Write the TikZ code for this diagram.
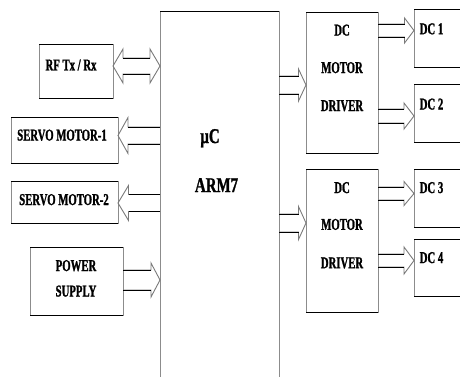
\documentclass[tikz,border=0pt]{standalone}
\usepackage{fontspec}
\setmainfont{Liberation Serif}[FakeStretch=0.65,FakeBold=1.2]
\newfontfamily\bigfont{Liberation Serif}[FakeStretch=0.71,FakeBold=1.2]
\usetikzlibrary{calc}
\definecolor{vgray}{HTML}{8C8C8C}
\definecolor{agray}{HTML}{7A7A7A}
\newcommand\hedges[1]{\draw[hl] (#1.north west) -- (#1.north east) (#1.south west) -- (#1.south east);}
% #1 from node anchor, #2 to node anchor, #3 y, #4 shaft half, #5 head half, #6 head length
\newcommand\barrow[6]{%
  \path let \p1=(#1), \p2=(#2), \n1={\x1}, \n2={\x2}, \n3={ifthenelse(\x2>\x1,\x2-#6,\x2+#6)} in
    [draw=agray, line width=0.9pt, line join=miter]
    (\n1,#3-#4) -- (\n3,#3-#4) -- (\n3,#3-#5) -- (\n2,#3) -- (\n3,#3+#5) -- (\n3,#3+#4) -- (\n1,#3+#4);
  \path let \p1=(#1), \p2=(#2), \n1={\x1}, \n2={\x2}, \n3={ifthenelse(\x2>\x1,\x2-#6,\x2+#6)} in
    [draw=black, line width=0.9pt]
    (\n1,#3-#4) -- (\n3,#3-#4) (\n1,#3+#4) -- (\n3,#3+#4);}
\begin{document}
\begin{tikzpicture}[x=1pt,y=-1pt,
  box/.style={draw=vgray, line width=0.9pt, inner sep=0pt, outer sep=0pt, anchor=north west},
  hl/.style={draw=black, line width=0.9pt},
  txt/.style={font=\fontsize{16.5}{19}\selectfont\bfseries, inner sep=0pt, anchor=base},
  big/.style={font=\bigfont\fontsize{21}{25}\selectfont\bfseries, inner sep=0pt, anchor=base}]
\useasboundingbox (0,0) rectangle (460,376);
\clip (0,0) rectangle (460,376);
\fill[white] (0,0) rectangle (460,376);
% boxes
\node[box, minimum width=119pt, minimum height=380pt] (arm) at (160,11) {};
\node[box, minimum width=74pt, minimum height=54pt] (rf) at (39,44) {};
\node[box, minimum width=107pt, minimum height=46pt] (s1) at (11,117) {};
\node[box, minimum width=107pt, minimum height=42pt] (s2) at (11,181) {};
\node[box, minimum width=93pt, minimum height=68pt] (ps) at (30,247) {};
\node[box, minimum width=72pt, minimum height=141pt] (d1) at (306,12) {};
\node[box, minimum width=72pt, minimum height=143pt] (d2) at (306,169) {};
\node[box, minimum width=60pt, minimum height=58pt] (dc1) at (414,9) {};
\node[box, minimum width=60pt, minimum height=58pt] (dc2) at (414,84) {};
\node[box, minimum width=60pt, minimum height=58pt] (dc3) at (414,169) {};
\node[box, minimum width=60pt, minimum height=57pt] (dc4) at (414,239) {};
\foreach \b in {arm,rf,s1,s2,ps,d1,d2,dc1,dc2,dc3,dc4} {\hedges{\b}}
% texts
\node[txt] (trf) at (71,70.4) {RF Tx / Rx};
\node[txt] (ts1) at (62,140.5) {SERVO MOTOR-1};
\node[txt] (ts2) at (64,205) {SERVO MOTOR-2};
\node[txt] (tps1) at (76,271) {POWER};
\node[txt] (tps2) at (76,296.5) {SUPPLY};
\node[big] (tmu) at (210,143) {µC};
\node[big] (tarm) at (216.5,192) {ARM7};
\node[txt] (td1a) at (342,35.5) {DC};
\node[txt] (td1b) at (342,73) {MOTOR};
\node[txt] (td1c) at (342,111) {DRIVER};
\node[txt] (td2a) at (342,193) {DC};
\node[txt] (td2b) at (342,229.8) {MOTOR};
\node[txt] (td2c) at (342,268.2) {DRIVER};
\node[txt] (tdc1) at (431.5,34.2) {DC 1};
\node[txt] (tdc2) at (431.5,109.5) {DC 2};
\node[txt] (tdc3) at (431.5,193) {DC 3};
\node[txt] (tdc4) at (431.5,263) {DC 4};
% double arrow RF <-> ARM
\path let \p1=(rf.east), \p2=(arm.west), \n1={\x1}, \n2={\x2} in
  [draw=agray, line width=0.9pt, line join=miter]
  (\n1+10,58) -- (\n2-10,58) -- (\n2-10,49) -- (\n2,66) -- (\n2-10,83) -- (\n2-10,74)
  -- (\n1+10,74) -- (\n1+10,83) -- (\n1,66) -- (\n1+10,49) -- cycle;
\path let \p1=(rf.east), \p2=(arm.west), \n1={\x1}, \n2={\x2} in
  [draw=black, line width=0.9pt]
  (\n1+10,58) -- (\n2-10,58) (\n1+10,74) -- (\n2-10,74);
% block arrows
\barrow{arm.west}{s1.east}{135.5}{8.5}{18}{10}
\barrow{arm.west}{s2.east}{203}{8.5}{17.5}{10.5}
\barrow{ps.east}{arm.west}{280}{10}{17}{9}
\barrow{arm.east}{d1.west}{85}{9}{16}{7.5}
\barrow{arm.east}{d2.west}{223}{9}{16.5}{7.5}
\barrow{d1.east}{dc1.west}{30.5}{6.5}{12.5}{9.5}
\barrow{d1.east}{dc2.west}{116}{7}{13}{10}
\barrow{d2.east}{dc3.west}{193.5}{6.5}{12}{10}
\barrow{d2.east}{dc4.west}{260.5}{6.5}{13.5}{10}
\end{tikzpicture}
\end{document}
